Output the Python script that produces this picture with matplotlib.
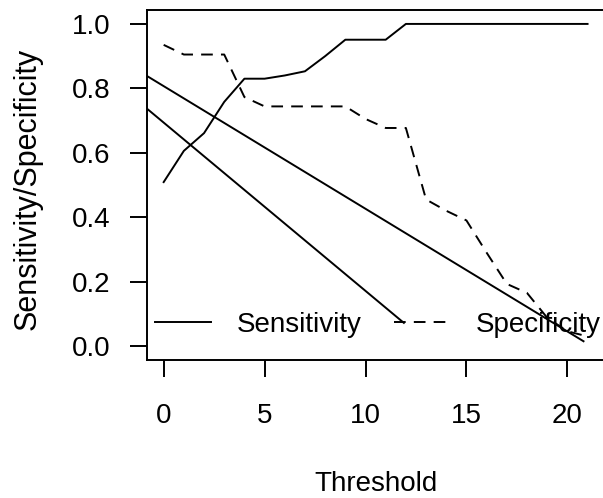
import matplotlib
matplotlib.use('Agg')
import matplotlib.pyplot as plt

# thresholds and the two curves
threshold = list(range(22))
sensitivity = [0.509, 0.606, 0.661, 0.758, 0.830, 0.830, 0.840, 0.853, 0.900, 0.951, 0.951,
               0.951, 1.0, 1.0, 1.0, 1.0, 1.0, 1.0, 1.0, 1.0, 1.0, 1.0]
specificity = [0.935, 0.905, 0.905, 0.905, 0.773, 0.744, 0.744, 0.744, 0.744, 0.744, 0.705,
               0.677, 0.677, 0.455, 0.420, 0.390, 0.290, 0.193, 0.165, 0.088, 0.046, 0.030]

# two straight solid segments also drawn on the plot
seg_a_x = [-1, 20.8]
seg_a_y = [0.845, 0.015]
seg_b_x = [-1, 11.9]
seg_b_y = [0.746, 0.072]

x_ticks = [0, 5, 10, 15, 20]
y_ticks = [0.0, 0.2, 0.4, 0.6, 0.8, 1.0]
y_labels = ['0.0', '0.2', '0.4', '0.6', '0.8', '1.0']

plt.rcParams['font.family'] = ['Liberation Sans', 'DejaVu Sans']
plt.rcParams['font.size'] = 20

fig = plt.figure(figsize=(6.03, 4.98), dpi=100)
ax = fig.add_axes([0.2433, 0.2771, 1.0025 - 0.2433, 0.9799 - 0.2771])

lw = 1.4
ax.plot(threshold, sensitivity, color='black', lw=lw, label='Sensitivity')
ax.plot(threshold, specificity, color='black', lw=lw, linestyle=(0, (6.0, 4.2)),
        label='Specificity')
ax.plot(seg_a_x, seg_a_y, color='black', lw=lw)
ax.plot(seg_b_x, seg_b_y, color='black', lw=lw)

ax.set_xlim(-0.84, 21.84)
ax.set_ylim(-0.0432, 1.0432)
ax.set_xticks(x_ticks)
ax.set_yticks(y_ticks)
ax.set_yticklabels(y_labels)
ax.tick_params(axis='both', direction='out', length=12, width=lw, colors='black')
ax.tick_params(axis='x', pad=19)
ax.tick_params(axis='y', pad=14)
for side in ['left', 'bottom', 'top']:
    ax.spines[side].set_linewidth(lw)
ax.spines['right'].set_visible(False)

ax.set_xlabel('Threshold')
ax.xaxis.set_label_coords(0.5, -0.354)
ax.xaxis.label.set_va('center')
ax.set_ylabel('Sensitivity/Specificity', fontsize=22)
ax.yaxis.set_label_coords(-0.261, 0.49)
ax.yaxis.label.set_va('center')

ax.legend(ncol=2, frameon=False, loc='center left', bbox_to_anchor=(0.018, 0.10),
          handlelength=2.0, handletextpad=0.95, columnspacing=1.15,
          borderaxespad=0, borderpad=0)

fig.savefig('out.png', dpi=100)
